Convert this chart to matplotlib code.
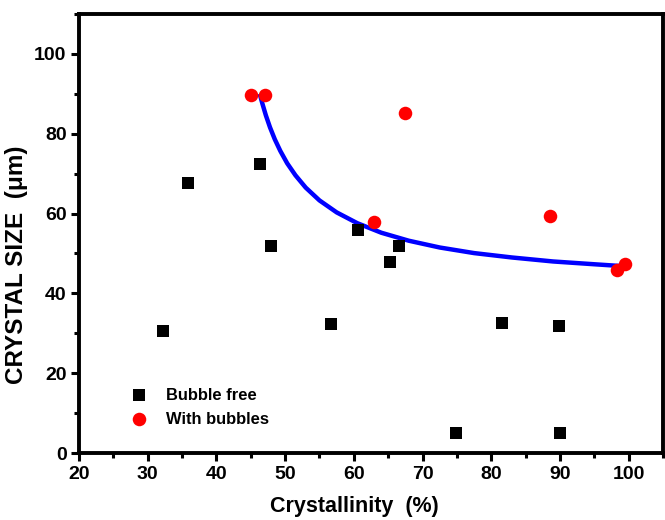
import matplotlib
matplotlib.use("Agg")
import matplotlib.pyplot as plt
from matplotlib.ticker import MultipleLocator

# Bubble free (black squares)
free_x = [32.2, 35.9, 46.3, 48.0, 56.7, 60.6, 65.3, 66.6, 74.9, 81.5, 89.9, 90.0]
free_y = [30.6, 67.7, 72.3, 51.9, 32.4, 55.9, 47.8, 52.0, 5.0, 32.6, 31.9, 5.1]

# With bubbles (red circles)
bub_x = [45.1, 47.0, 63.0, 67.4, 88.6, 98.3, 99.4]
bub_y = [89.8, 89.8, 57.8, 85.1, 59.5, 45.8, 47.4]

# Fitted curve
fit_x = [46.3, 46.7, 47.2, 47.8, 48.5, 49.3, 50.3, 51.5, 53.0, 55.0, 57.5,
         60.5, 64.0, 68.0, 72.5, 77.5, 83.0, 89.0, 95.0, 99.4]
fit_y = [90.0, 87.5, 84.6, 81.6, 78.6, 75.7, 72.6, 69.6, 66.5, 63.3, 60.3,
         57.6, 55.2, 53.2, 51.5, 50.1, 49.0, 48.0, 47.3, 46.8]

x_ticks = [20, 30, 40, 50, 60, 70, 80, 90, 100]
y_ticks = [0, 20, 40, 60, 80, 100]

plt.rcParams['font.family'] = ['Liberation Sans', 'DejaVu Sans']

fig = plt.figure(figsize=(6.65, 5.2), dpi=100)
ax = fig.add_axes([0.1188, 0.1288, 0.8782, 0.8442])

ax.plot(fit_x, fit_y, color='#0000ff', lw=3.2, zorder=2, solid_capstyle='butt')
ax.scatter(free_x, free_y, marker='s', s=72, color='black', zorder=3, label='Bubble free', linewidths=0)
ax.scatter(bub_x, bub_y, marker='o', s=95, color='#ff0000', zorder=3, label='With bubbles', linewidths=0)

ax.set_xlim(20, 105)
ax.set_ylim(0, 110)
ax.set_xticks(x_ticks)
ax.set_yticks(y_ticks)
ax.xaxis.set_minor_locator(MultipleLocator(5))
ax.yaxis.set_minor_locator(MultipleLocator(10))

for s in ax.spines.values():
    s.set_linewidth(2.8)

ax.tick_params(which='major', direction='out', length=6, width=2.2, labelsize=14, pad=3)
ax.tick_params(which='minor', direction='out', length=3.5, width=2.2)
ax.tick_params(top=False, right=False, which='both')
for lbl in ax.get_xticklabels() + ax.get_yticklabels():
    lbl.set_fontweight('bold')

ax.set_xlabel('Crystallinity  (%)', fontsize=15.5, fontweight='bold')
ax.xaxis.set_label_coords(0.472, -0.098)
ax.set_ylabel('CRYSTAL SIZE  (μm)', fontsize=17.5, fontweight='bold')
ax.yaxis.set_label_coords(-0.087, 0.43)

leg = ax.legend(loc='lower left', bbox_to_anchor=(0.049, 0.026), frameon=False,
                prop={'weight': 'bold', 'size': 11.9}, handletextpad=0.66,
                labelspacing=0.55, scatterpoints=1)

fig.savefig('out.png', dpi=100)
